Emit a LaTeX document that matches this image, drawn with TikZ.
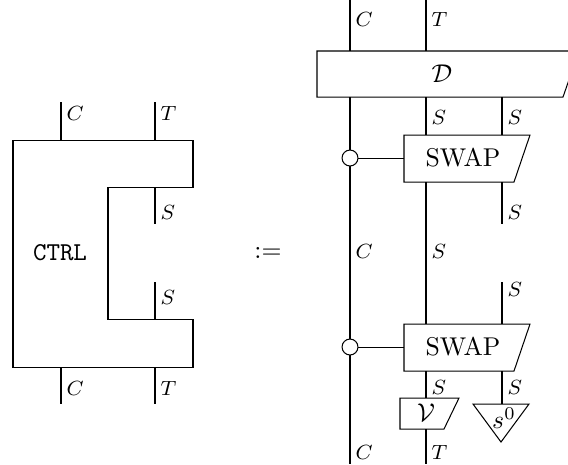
\documentclass[tikz,border=0pt]{standalone}
\begin{document}
\begin{tikzpicture}[x=0.389pt,y=-0.389pt,
  lab/.style={font=\footnotesize, inner sep=0pt, anchor=west},
  txt/.style={inner sep=0pt},
  wire/.style={line width=0.4pt},
  boxline/.style={line width=0.4pt},
  ctrldot/.style={draw, fill=white, line width=0.4pt, circle, minimum size=6.2pt, inner sep=0pt}]
\useasboundingbox (0,0) rectangle (568,464);

% ---------- left: CTRL ----------
\draw[boxline] (13,140) -- (193,140) -- (193,187) -- (108,187) -- (108,319) -- (193,319) -- (193,367) -- (13,367) -- cycle;
\node[txt] (ctrl) at (60,253) {\texttt{CTRL}};
\coordinate (lct) at (61,102); \coordinate (lcb) at (61,140);
\coordinate (ltt) at (155,102); \coordinate (ltb) at (155,140);
\coordinate (ls1t) at (155,187); \coordinate (ls1b) at (155,224);
\coordinate (ls2t) at (155,282); \coordinate (ls2b) at (155,319);
\coordinate (lc2t) at (61,367); \coordinate (lc2b) at (61,404);
\coordinate (lt2t) at (155,367); \coordinate (lt2b) at (155,404);
\draw[wire] (lct) -- (lcb);
\draw[wire] (ltt) -- (ltb);
\draw[wire] (ls1t) -- (ls1b);
\draw[wire] (ls2t) -- (ls2b);
\draw[wire] (lc2t) -- (lc2b);
\draw[wire] (lt2t) -- (lt2b);
\node[lab] (lC1) at (66,113) {$C$};
\node[lab] (lT1) at (160,113) {$T$};
\node[lab] (lS1) at (160,212) {$S$};
\node[lab] (lS2) at (160,297) {$S$};
\node[lab] (lC2) at (66,388) {$C$};
\node[lab] (lT2) at (160,388) {$T$};

\node[txt] (def) at (268,253) {$:=$};

% ---------- right ----------
% boxes
\draw[boxline] (317,51) -- (579,51) -- (563,97) -- (317,97) -- cycle;
\node[txt] (D) at (442,74) {$\mathcal{D}$};
\draw[boxline] (404,135) -- (530,135) -- (514,182) -- (404,182) -- cycle;
\node[txt] (swap1) at (463,158) {SWAP};
\draw[boxline] (404,324) -- (530,324) -- (514,371) -- (404,371) -- cycle;
\node[txt] (swap2) at (463,347) {SWAP};
\draw[boxline] (400,398) -- (459,398) -- (444,429) -- (400,429) -- cycle;
\node[txt] (V) at (426,413) {$\mathcal{V}$};
\draw[boxline] (473,404) -- (529,404) -- (501,442) -- cycle;
\node[txt] (s0) at (504,418) {$s^0$};

% C wire
\coordinate (c0) at (350,0); \coordinate (c1) at (350,51);
\coordinate (c2) at (350,97); \coordinate (c3) at (350,464);
\draw[wire] (c0) -- (c1);
\draw[wire] (c2) -- (c3);
% T wire
\coordinate (t0) at (426,0); \coordinate (t1) at (426,51);
\coordinate (t2) at (426,97); \coordinate (t3) at (426,135);
\coordinate (t4) at (426,182); \coordinate (t5) at (426,324);
\coordinate (t6) at (426,371); \coordinate (t7) at (426,398);
\coordinate (t8) at (426,429); \coordinate (t9) at (426,464);
\draw[wire] (t0) -- (t1);
\draw[wire] (t2) -- (t3);
\draw[wire] (t4) -- (t5);
\draw[wire] (t6) -- (t7);
\draw[wire] (t8) -- (t9);
% third wire
\coordinate (u0) at (502,97); \coordinate (u1) at (502,135);
\coordinate (u2) at (502,182); \coordinate (u3) at (502,224);
\coordinate (u4) at (502,282); \coordinate (u5) at (502,324);
\coordinate (u6) at (502,371); \coordinate (u7) at (502,404);
\draw[wire] (u0) -- (u1);
\draw[wire] (u2) -- (u3);
\draw[wire] (u4) -- (u5);
\draw[wire] (u6) -- (u7);

% controls
\node[ctrldot] (k1) at (350,158) {};
\node[ctrldot] (k2) at (350,347) {};
\coordinate (k1e) at (404,158);
\coordinate (k2e) at (404,347);
\draw[wire] (k1) -- (k1e);
\draw[wire] (k2) -- (k2e);

% labels
\node[lab] (rC1) at (355,19) {$C$};
\node[lab] (rT1) at (431,19) {$T$};
\node[lab] (rS1) at (431,117) {$S$};
\node[lab] (rS2) at (507,117) {$S$};
\node[lab] (rS3) at (507,212) {$S$};
\node[lab] (rC2) at (355,251) {$C$};
\node[lab] (rS4) at (431,251) {$S$};
\node[lab] (rS5) at (507,289) {$S$};
\node[lab] (rS6) at (431,387) {$S$};
\node[lab] (rS7) at (507,387) {$S$};
\node[lab] (rC3) at (355,452) {$C$};
\node[lab] (rT3) at (431,452) {$T$};
\end{tikzpicture}
\end{document}
